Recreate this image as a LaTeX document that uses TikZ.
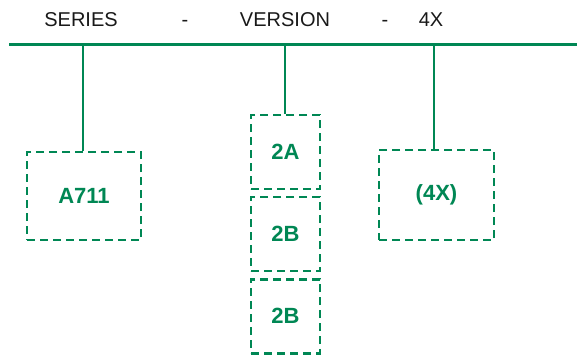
\documentclass[tikz,border=0pt]{standalone}
\usepackage{fontspec}
\setmainfont{Liberation Sans}
\usetikzlibrary{positioning}
\definecolor{verdeCodigo}{RGB}{0,135,84}
\tikzstyle{rail} =[draw=verdeCodigo, line width=3pt]
\tikzstyle{stem} =[draw=verdeCodigo, line width=2.5pt]
\tikzstyle{field}=[draw=verdeCodigo, dash pattern=on 8pt off 5pt,
                   line width=2.6pt, inner sep=0pt, text=verdeCodigo,
                   font=\fontsize{22}{26}\selectfont\bfseries]
\tikzstyle{title}=[font=\fontsize{20}{24}\selectfont, text=black!90,
                   anchor=base, inner sep=0pt]

\begin{document}
\begin{tikzpicture}[x=1pt,y=-1pt]
\useasboundingbox (0,0) rectangle (577,356);
%%%%%%%%%%%%%%%%%%%%%%%%%%%%%%%%%%%%%%%%%%%%%%%%
%%%%%%%%%%          Header            %%%%%%%%%%
%%%%%%%%%%%%%%%%%%%%%%%%%%%%%%%%%%%%%%%%%%%%%%%%
\node (serie)    [title] at (81,26)  {SERIES};
\node (guion1)   [title] at (185,26) {-};
\node (version)  [title] at (285,26) {VERSION};
\node (guion2)   [title] at (385,26) {-};
\node (variante) [title] at (431,26) {4X};

\coordinate (iz) at (9,44.7);
\coordinate (de) at (577,44.7);
\draw [rail] (iz) to (de);

%%%%%%%%%%%%%%%%%%%%%%%%%%%%%%%%%%%%%%%%%%%%%%%%
%%%%%%%%%%          Fields            %%%%%%%%%%
%%%%%%%%%%%%%%%%%%%%%%%%%%%%%%%%%%%%%%%%%%%%%%%%
\node (A711) [field, minimum width=114pt, minimum height=88pt] at (84,196) {A711};

\node (v2A) [field, minimum width=69pt, minimum height=74pt] at (285.5,152) {2A};
\node (v2B) [field, minimum width=69pt, minimum height=74pt, below=5.5pt of v2A] {2B};
\node (v2C) [field, minimum width=69pt, minimum height=74pt, below=5.5pt of v2B] {2B};

\node (x4X) [field, minimum width=115pt, minimum height=90pt] at (436.5,195) {(4X)};

% stems from the rail
\coordinate (pSerie)    at (83,44.7);
\coordinate (pVersion)  at (285,44.7);
\coordinate (pVariante) at (434,44.7);
\draw [stem] (pSerie)    to (pSerie |- A711.north);
\draw [stem] (pVersion)  to (pVersion |- v2A.north);
\draw [stem] (pVariante) to (pVariante |- x4X.north);

\end{tikzpicture}
\end{document}
